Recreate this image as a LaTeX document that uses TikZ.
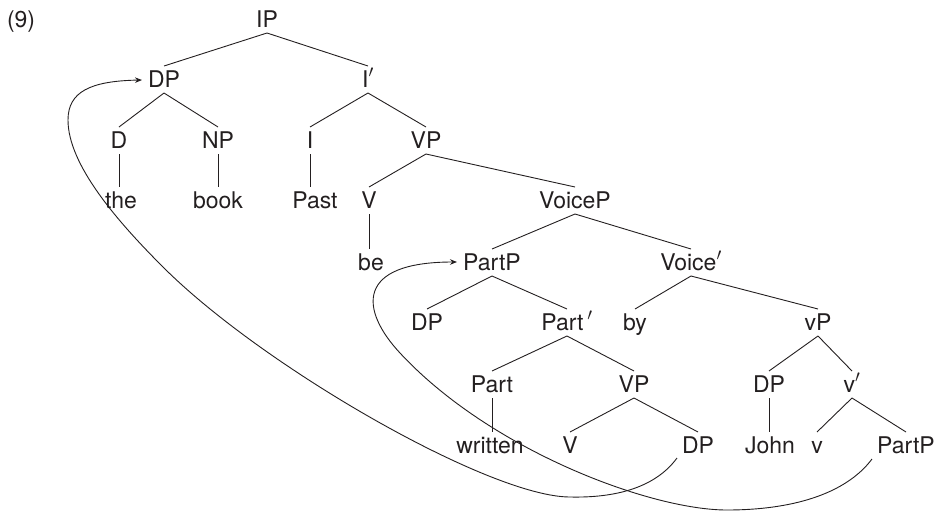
\documentclass[tikz,border=0pt]{standalone}
\usepackage{fontspec}
\setmainfont{TeX Gyre Heros}
\usetikzlibrary{arrows.meta}
\newcommand{\prm}{\ensuremath{'}}
\definecolor{ink}{HTML}{231F20}
\tikzset{
  lbl/.style={font=\fontsize{23}{27}\selectfont, text=ink, anchor=base,
    inner sep=0pt, outer sep=0pt, text height=21pt, text depth=6pt},
  br/.style={draw=ink, line width=0.9pt},
  mv/.style={draw=ink, line width=0.9pt, -{Stealth[length=7pt,width=5.5pt]}}
}
\begin{document}
\begin{tikzpicture}[x=1pt,y=-1pt]
\useasboundingbox (0,0) rectangle (935,512);
% label
\node[lbl, anchor=base west] (ex) at (7,27) {(9)};
% row 1
\node[lbl] (IP) at (267,27) {IP};
% row 2
\node[lbl] (DP1) at (164,87) {DP};
\node[lbl] (Ibar) at (368,87) {I\prm};
% row 3
\node[lbl] (D) at (119,148) {D};
\node[lbl] (NP) at (218,148) {NP};
\node[lbl] (I) at (310,148) {I};
\node[lbl] (VP1) at (426,148) {VP};
% row 4
\node[lbl] (the) at (121,208) {the};
\node[lbl] (book) at (218,208) {book};
\node[lbl] (Past) at (315,208) {Past};
\node[lbl] (V1) at (369,208) {V};
\node[lbl] (VoiceP) at (575,208) {VoiceP};
% row 5
\node[lbl] (be) at (371,270) {be};
\node[lbl] (PartP1) at (492,270) {PartP};
\node[lbl] (Voicebar) at (691,270) {Voice\prm};
% row 6
\node[lbl] (DP2) at (427,330) {DP};
\node[lbl] (Partbar) at (567,330) {Part\,\prm};
\node[lbl] (by) at (635,330) {by};
\node[lbl] (vP) at (818,330) {vP};
% row 7
\node[lbl] (Part) at (492,392) {Part};
\node[lbl] (VP2) at (634,392) {VP};
\node[lbl] (DP3) at (769,392) {DP};
\node[lbl] (vbar) at (852,392) {v\prm};
% row 8
\node[lbl] (written) at (490,453) {written};
\node[lbl] (V2) at (570,453) {V};
\node[lbl] (DP4) at (698,453) {DP};
\node[lbl] (John) at (770,453) {John};
\node[lbl] (v) at (817,453) {v};
\node[lbl] (PartP2) at (906,453) {PartP};
% branches
\draw[br] (IP.south) -- (DP1.north);
\draw[br] (IP.south) -- (Ibar.north);
\draw[br] (DP1.south) -- (D.north);
\draw[br] (DP1.south) -- (NP.north);
\draw[br] (Ibar.south) -- (I.north);
\draw[br] (Ibar.south) -- (VP1.north);
\draw[br] (D.south) -- (D.south |- the.north);
\draw[br] (NP.south) -- (NP.south |- book.north);
\draw[br] (I.south) -- (I.south |- Past.north);
\draw[br] (VP1.south) -- (V1.north);
\draw[br] (VP1.south) -- (VoiceP.north);
\draw[br] (V1.south) -- (V1.south |- be.north);
\draw[br] (VoiceP.south) -- (PartP1.north);
\draw[br] (VoiceP.south) -- (Voicebar.north);
\draw[br] (PartP1.south) -- (DP2.north);
\draw[br] (PartP1.south) -- (Partbar.north);
\draw[br] (Voicebar.south) -- (by.north);
\draw[br] (Voicebar.south) -- (vP.north);
\draw[br] (Partbar.south) -- (Part.north);
\draw[br] (Partbar.south) -- (VP2.north);
\draw[br] (vP.south) -- (DP3.north);
\draw[br] (vP.south) -- (vbar.north);
\draw[br] (Part.south) -- (Part.south |- written.north);
\draw[br] (VP2.south) -- (V2.north);
\draw[br] (VP2.south) -- (DP4.north);
\draw[br] (DP3.south) -- (DP3.south |- John.north);
\draw[br] (vbar.south) -- (v.north);
\draw[br] (vbar.south) -- (PartP2.north);
% movement arrows
\coordinate (s1) at (677,458);
\coordinate (e1) at (142,80);
\draw[mv] (s1) .. controls (655,488) and (615,498) .. (570,497)
  .. controls (490,497) and (263,367) .. (163,267)
  .. controls (118,222) and (68,165) .. (68,120)
  .. controls (68,92) and (90,81) .. (e1);
\coordinate (s2) at (872,459);
\coordinate (e2) at (457,262);
\draw[mv] (s2) .. controls (845,495) and (790,510) .. (727,510)
  .. controls (650,510) and (490,450) .. (400,353)
  .. controls (360,310) and (355,262) .. (e2);
\end{tikzpicture}
\end{document}
